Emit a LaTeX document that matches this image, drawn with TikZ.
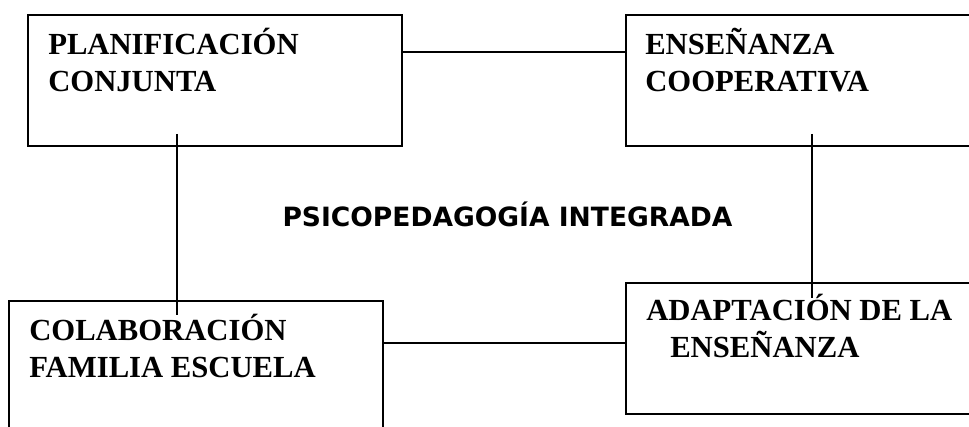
\documentclass[tikz,border=0pt]{standalone}
\usepackage{fontspec}
\setmainfont{Liberation Serif}
\newfontfamily\titlefont{DejaVu Sans}
\usetikzlibrary{positioning, calc}

\tikzset{
  boxnode/.style={draw, line width=1.4pt, rectangle, anchor=north west, inner sep=0pt},
  boxtext/.style={anchor=base west, align=left, inner sep=0pt, font=\bfseries\fontsize{23}{27.75}\selectfont},
  link/.style={line width=1.3pt},
}

\begin{document}
\begin{tikzpicture}[x=0.75pt,y=-0.75pt]
  \useasboundingbox (0,0) rectangle (969,426);
  \clip (0,0) rectangle (969,426);

  % boxes
  \node[boxnode, minimum width=280.5pt, minimum height=98.25pt] (pc) at (27,14) {};
  \node[boxnode, minimum width=277.5pt, minimum height=98.25pt] (ec) at (625,14) {};
  \node[boxnode, minimum width=280.5pt, minimum height=112.5pt] (cf) at (8,300) {};
  \node[boxnode, minimum width=277.5pt, minimum height=98.25pt] (ae) at (625,282) {};

  % labels (base = last line)
  \node[boxtext] (pctext) at ($(pc.north west)+(21,77)$) {PLANIFICACIÓN\\CONJUNTA};
  \node[boxtext] (ectext) at ($(ec.north west)+(20,77)$) {ENSEÑANZA\\COOPERATIVA};
  \node[boxtext] (cftext) at ($(cf.north west)+(21,77)$) {COLABORACIÓN\\FAMILIA ESCUELA};
  \node[boxtext] (aetext) at ($(ae.north west)+(21,75)$) {ADAPTACIÓN DE LA\\\hspace*{18pt}ENSEÑANZA};

  \node[anchor=base, inner sep=0pt, font=\titlefont\bfseries\fontsize{19.9}{24}\selectfont] (pi) at (507.5,226) {PSICOPEDAGOGÍA INTEGRADA};

  % connectors
  \draw[link] ($(pc.north east)+(0,38)$) -- ($(ec.north west)+(0,38)$);
  \draw[link] ($(pc.south west)+(150,-13)$) -- ($(cf.north west)+(169,15)$);
  \draw[link] ($(ec.south west)+(187,-13)$) -- ($(ae.north west)+(187,16)$);
  \draw[link] ($(cf.north east)+(0,43)$) -- ($(ae.north west)+(0,61)$);
\end{tikzpicture}
\end{document}
